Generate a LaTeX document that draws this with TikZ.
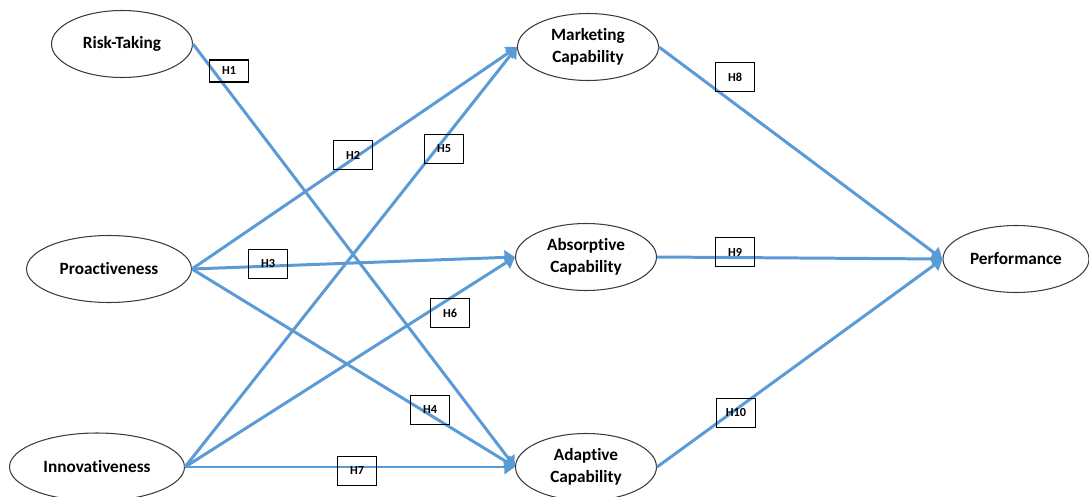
\documentclass[tikz,border=0pt]{standalone}
\usepackage{fontspec}
\setmainfont{Carlito}[Ligatures = {NoCommon, NoRare}]
\usetikzlibrary{shapes.geometric, arrows.meta}
\definecolor{linkblue}{RGB}{91,155,213}
\definecolor{rimgray}{RGB}{60,60,60}

\begin{document}
\begin{tikzpicture}[x = 0.02cm, y = -0.02cm,
    construct/.style = {shape = ellipse, draw = rimgray, line width = 0.6pt, inner sep = 1pt,
        minimum width = 2.82cm, minimum height = 1.34cm, align = center,
        font = \fontsize{9.8}{12.5}\selectfont\bfseries},
    hyp/.style = {draw, line width = 1pt, inner sep = 0pt, minimum width = 0.78cm,
        minimum height = 0.58cm, font = \fontsize{7}{8}\selectfont\bfseries},
    path/.style = {draw = linkblue, line width = 1.7pt, -{Triangle[length = 6pt, width = 8pt]}}]
    \useasboundingbox (0,0) rectangle (1089,497);
    % constructs
    \node [construct] (RT) at (122,44) {Risk-Taking};
    \node [construct, minimum width = 3.3cm] (PR) at (109,269) {Proactiveness};
    \node [construct, minimum width = 3.5cm, minimum height = 1.36cm] (IN) at (97,467) {Innovativeness};
    \node [construct] (MC) at (588,47) {Marketing\\Capability};
    \node [construct] (AB) at (586,257) {Absorptive\\Capability};
    \node [construct] (AD) at (586,467) {Adaptive\\Capability};
    \node [construct, minimum width = 2.92cm] (PF) at (1016,259) {Performance};
    % paths
    \draw [path] (RT.east) -- (AD.west);
    \draw [path] (PR.east) -- (MC.west);
    \draw [path] (PR.east) -- (AB.west);
    \draw [path] (PR.east) -- (AD.west);
    \draw [path] (IN.east) -- (MC.west);
    \draw [path] (IN.east) -- (AB.west);
    \draw [path] (IN.east) -- (AD.west);
    \draw [path] (MC.east) -- (PF.west);
    \draw [path] (AB.east) -- (PF.west);
    \draw [path] (AD.east) -- (PF.west);
    % hypotheses
    \node [hyp, minimum height = 0.44cm] (H1) at (229,71) {H1};
    \node [hyp] (H2) at (353,155) {H2};
    \node [hyp] (H3) at (268,264) {H3};
    \node [hyp] (H4) at (430,410) {H4};
    \node [hyp] (H5) at (444,149) {H5};
    \node [hyp] (H6) at (450,313) {H6};
    \node [hyp] (H7) at (357,471) {H7};
    \node [hyp] (H8) at (735,77) {H8};
    \node [hyp] (H9) at (735,252) {H9};
    \node [hyp] (H10) at (736,413) {H10};
\end{tikzpicture}
\end{document}
